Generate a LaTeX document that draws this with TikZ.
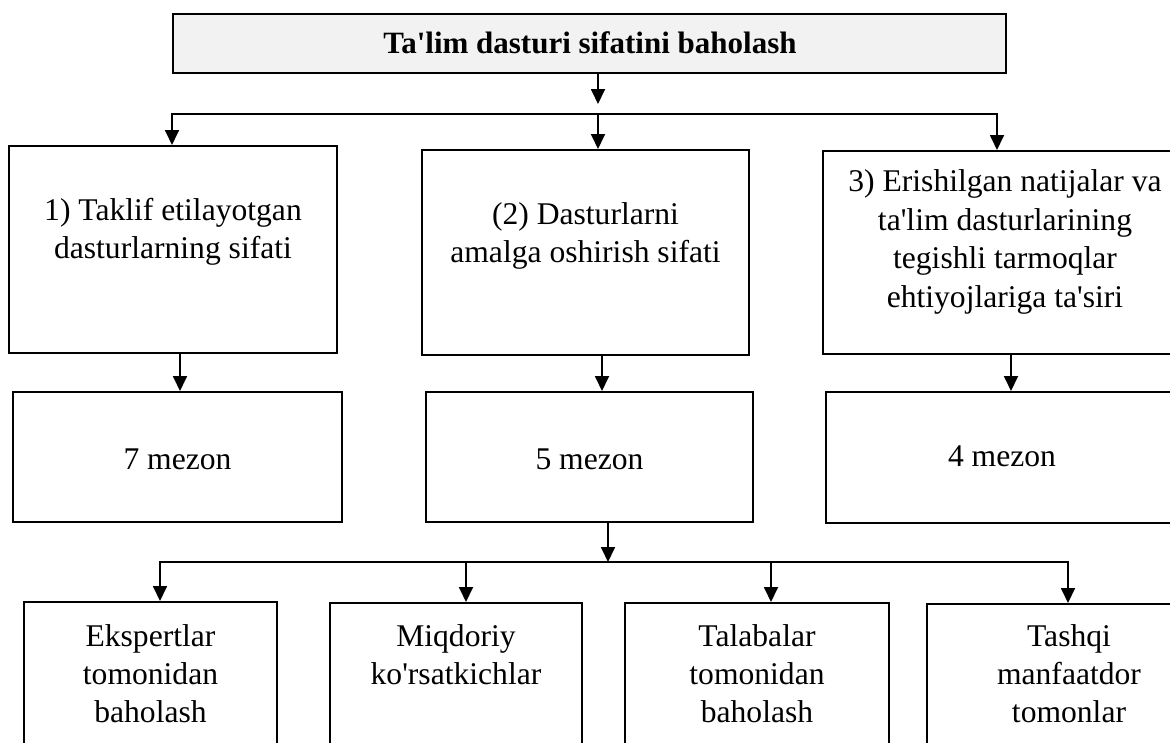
\documentclass[tikz,border=0pt]{standalone}
\usepackage{fontspec}
\newfontfamily\tnr{Liberation Serif}
\usetikzlibrary{arrows.meta}
\definecolor{topfill}{RGB}{242,242,242}
\begin{document}
\begin{tikzpicture}[x=1pt,y=-1pt,
  box/.style={draw=black, line width=2pt, rectangle, inner sep=0pt},
  txt/.style={font=\tnr\fontsize{31.6}{38}\selectfont, align=center, anchor=base, inner sep=0pt},
  arr/.style={line width=1.8pt, -{Triangle[width=14pt,length=15pt]}},
  arr2/.style={line width=1.8pt, {Triangle[width=14pt,length=15pt]}-{Triangle[width=14pt,length=15pt]}}]
\useasboundingbox (0,0) rectangle (1170,742);
\clip (0,0) rectangle (1170,742);

% top
\node[box, fill=topfill, line width=2.5pt, minimum width=833pt, minimum height=59pt] (top) at (589.5,43.5) {};
\node[font=\tnr\fontsize{31}{37}\selectfont\bfseries, anchor=base, inner sep=0pt] (toptxt) at (590,53) {Ta'lim dasturi sifatini baholash};

% level 1 (text anchors at the baseline of the last line)
\node[box, minimum width=328pt, minimum height=207pt] (b1) at (173,249.5) {};
\node[box, minimum width=327pt, minimum height=205pt] (b2) at (585.5,252.5) {};
\node[box, minimum width=364pt, minimum height=203pt] (b3) at (1005,252.5) {};
\node[txt] (t1) at (173,258) {1) Taklif etilayotgan\\dasturlarning sifati};
\node[txt] (t2) at (585.5,262) {(2) Dasturlarni\\amalga oshirish sifati};
\node[txt, font=\tnr\fontsize{31.6}{38.4}\selectfont] (t3) at (1005,307) {3) Erishilgan natijalar va\\ta'lim dasturlarining\\tegishli tarmoqlar\\ehtiyojlariga ta'siri};

% level 2
\node[box, minimum width=329pt, minimum height=130pt] (m7) at (177.5,457) {};
\node[box, minimum width=327pt, minimum height=130pt] (m5) at (589.5,457) {};
\node[box, minimum width=352pt, minimum height=131pt] (m4) at (1002,457.5) {};
\node[txt] (m7t) at (177.5,469) {7 mezon};
\node[txt] (m5t) at (589.5,469) {5 mezon};
\node[txt] (m4t) at (1002,466) {4 mezon};

% level 3
\node[box, minimum width=253pt, minimum height=176pt] (e) at (150.5,690) {};
\node[box, minimum width=252pt, minimum height=174pt] (q) at (456,690) {};
\node[box, minimum width=264pt, minimum height=174pt] (t) at (757,690) {};
\node[box, minimum width=284pt, minimum height=172pt] (x) at (1069,690) {};
\node[txt] (et) at (150.5,722) {Ekspertlar\\tomonidan\\baholash};
\node[txt] (qt) at (456,684) {Miqdoriy\\ko'rsatkichlar};
\node[txt] (tt) at (757,722) {Talabalar\\tomonidan\\baholash};
\node[txt] (xt) at (1069,722) {Tashqi\\manfaatdor\\tomonlar};

% connectors top
\coordinate (c1) at (598,104);
\coordinate (hL) at (172,114);
\coordinate (hM) at (598,114);
\coordinate (hR) at (997,114);
\draw[arr] (top.south -| c1) -- (c1);
\draw[arr2] (b1.north -| hL) -- (hL) -- (hR) -- (b3.north -| hR);
\draw[arr] (hM) -- (b2.north -| hM);

% level1 -> level2
\coordinate (a1) at (180,0);
\coordinate (a2) at (602,0);
\coordinate (a3) at (1011,0);
\draw[arr] (b1.south -| a1) -- (m7.north -| a1);
\draw[arr] (b2.south -| a2) -- (m5.north -| a2);
\draw[arr] (b3.south -| a3) -- (m4.north -| a3);

% level2 -> level3
\coordinate (c2) at (608,562);
\coordinate (gL) at (160,562);
\coordinate (g2) at (466,562);
\coordinate (g3) at (771,562);
\coordinate (gR) at (1068,562);
\draw[arr] (m5.south -| c2) -- (c2);
\draw[arr2] (e.north -| gL) -- (gL) -- (gR) -- (x.north -| gR);
\draw[arr] (g2) -- (q.north -| g2);
\draw[arr] (g3) -- (t.north -| g3);
\end{tikzpicture}
\end{document}
